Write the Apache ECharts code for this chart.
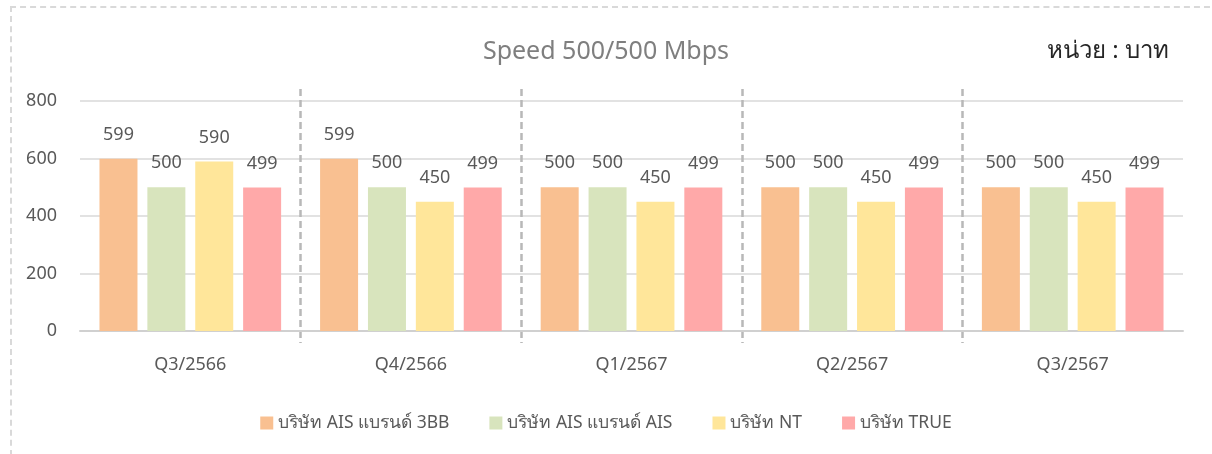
<!DOCTYPE html>
<html>
<head>
<meta charset="utf-8">
<script src="https://cdn.jsdelivr.net/npm/echarts@6/dist/echarts.min.js"></script>
<style>
  html, body { margin: 0; padding: 0; background: #fff; }
  #frame {
    position: absolute; left: 10px; top: 6px; width: 1210px; height: 460px;
    border-top: 2px dashed #d9d9d9; border-left: 2px dashed #d9d9d9;
    box-sizing: border-box;
  }
  #main { position: absolute; left: 0; top: 0; width: 1212px; height: 454px; }
</style>
</head>
<body>
<div id="frame"></div>
<div id="main"></div>
<script>
// quarters (Thai Buddhist year)
const categories = ['Q3/2566', 'Q4/2566', 'Q1/2567', 'Q2/2567', 'Q3/2567'];
const seriesNames = ['บริษัท AIS แบรนด์ 3BB', 'บริษัท AIS แบรนด์ AIS', 'บริษัท NT', 'บริษัท TRUE'];
const ais3bb = [599, 599, 500, 500, 500];
const aisAis = [500, 500, 500, 500, 500];
const nt = [590, 450, 450, 450, 450];
const trueCo = [499, 499, 499, 499, 499];
const yTicks = [0, 200, 400, 600, 800];

const colors = ['#F9C091', '#D8E4BD', '#FFE69A', '#FFA9A9'];
const font = '"Noto Sans", "DejaVu Sans", sans-serif';

const chart = echarts.init(document.getElementById('main'), null, { renderer: 'canvas' });

function makeBar(name, data, i) {
  return {
    name: name,
    type: 'bar',
    xAxisIndex: 0,
    yAxisIndex: 0,
    data: data,
    barWidth: 38,
    barGap: '26%',
    itemStyle: { color: colors[i] },
    label: {
      show: true,
      position: 'top',
      distance: 15,
      color: '#595959',
      fontSize: 18,
      fontFamily: font
    }
  };
}

const option = {
  animation: false,
  color: colors,
  title: [{
    text: 'Speed 500/500 Mbps',
    left: 'center',
    top: 34,
    textStyle: { color: '#7f7f7f', fontSize: 25, fontWeight: 'normal', fontFamily: font }
  }, {
    text: 'หน่วย : บาท',
    right: 38,
    top: 34,
    textStyle: { color: '#262626', fontSize: 24, fontWeight: 'normal', fontFamily: font }
  }],
  legend: {
    data: seriesNames,
    left: 'center',
    top: 409,
    itemWidth: 13,
    itemHeight: 13,
    itemGap: 40,
    icon: 'rect',
    textStyle: { color: '#595959', fontSize: 17.5, fontFamily: font }
  },
  grid: [
    { left: 80, right: 29, top: 101, bottom: 123 },
    // taller grid, only used for the dashed quarter separators
    { left: 80, right: 29, top: 89, bottom: 111 }
  ],
  xAxis: [{
    type: 'category',
    gridIndex: 0,
    data: categories,
    axisLine: { lineStyle: { color: '#d0d0d0', width: 2 } },
    axisTick: { show: false },
    axisLabel: { color: '#595959', fontSize: 18, margin: 25, fontFamily: font },
    splitLine: { show: false }
  }, {
    type: 'value',
    gridIndex: 1,
    min: 0,
    max: categories.length,
    interval: 1,
    axisLine: { show: false },
    axisTick: { show: false },
    axisLabel: { show: false },
    splitLine: {
      show: true,
      showMinLine: false,
      showMaxLine: false,
      lineStyle: { color: '#b8b8b8', width: 2.5, type: [7, 4] }
    }
  }],
  yAxis: [{
    type: 'value',
    gridIndex: 0,
    min: yTicks[0],
    max: yTicks[yTicks.length - 1],
    interval: 200,
    axisLine: { show: false },
    axisTick: { show: false },
    axisLabel: { color: '#595959', fontSize: 18, margin: 23, fontFamily: font },
    splitLine: { lineStyle: { color: '#d9d9d9', width: 1.5 } }
  }, {
    type: 'value',
    gridIndex: 1,
    show: false,
    splitLine: { show: false }
  }],
  series: [
    makeBar(seriesNames[0], ais3bb, 0),
    makeBar(seriesNames[1], aisAis, 1),
    makeBar(seriesNames[2], nt, 2),
    makeBar(seriesNames[3], trueCo, 3)
  ]
};

chart.setOption(option);
</script>
</body>
</html>
